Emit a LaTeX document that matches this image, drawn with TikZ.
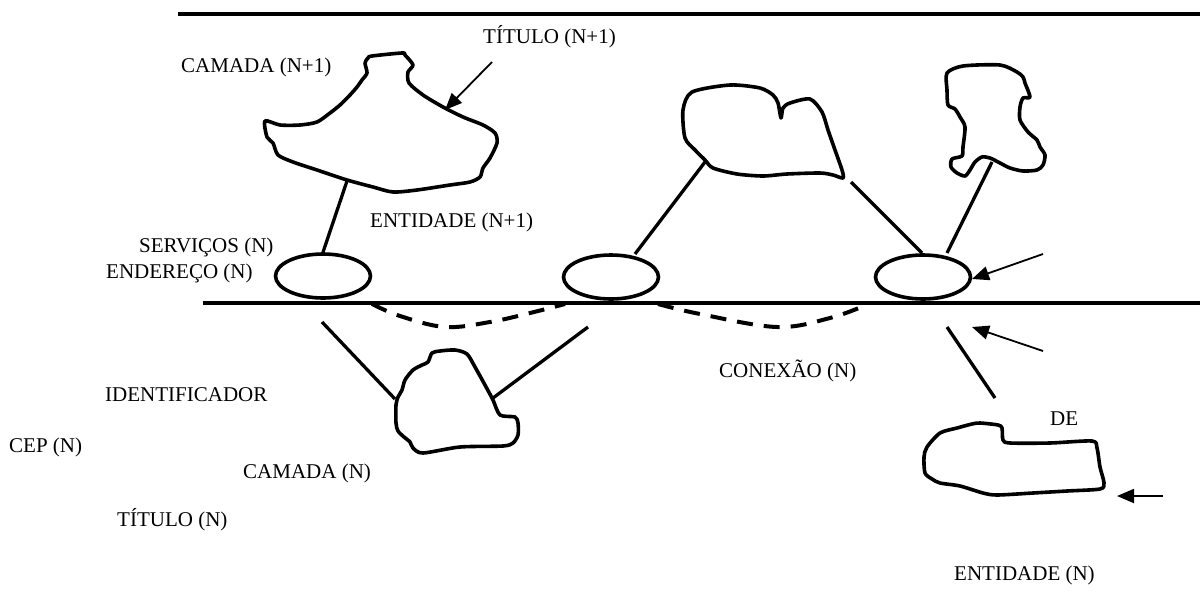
\documentclass[tikz,border=0pt]{standalone}
\usepackage{fontspec}
\setmainfont{Liberation Serif}
\usetikzlibrary{shapes.geometric,arrows.meta}
\tikzset{
  lbl/.style={anchor=base west, inner sep=0pt, font=\fontsize{21}{25}\selectfont},
  layerline/.style={line width=4.5pt},
  blob/.style={line width=3.6pt, line join=round},
  conn/.style={line width=3.3pt},
  sap/.style={ellipse, draw, line width=3.6pt, minimum width=95pt, minimum height=44pt, inner sep=0pt},
  dashconn/.style={line width=4pt, dash pattern=on 16pt off 11pt},
  pointer/.style={line width=1.8pt, -{Triangle[length=17pt,width=14pt]}}
}
\begin{document}
\begin{tikzpicture}[x=1pt,y=-1pt]
\useasboundingbox (0,0) rectangle (1200,590);
% layer boundaries
\coordinate (topL) at (178,14);
\coordinate (topR) at (1200,14);
\coordinate (midL) at (203,303);
\coordinate (midR) at (1200,303);
\draw[layerline] (topL) -- (topR);
\draw[layerline] (midL) -- (midR);

% service access points
\node[sap] (e1) at (323,276) {};
\node[sap] (e2) at (611,277) {};
\node[sap] (e3) at (923,277) {};

% entities (N+1)
\draw[blob] plot[smooth cycle, tension=0.45] coordinates {
 (368,58) (372,56) (402,53) (405,55) (413,65) (408,72) (409,83) (423,95) (443,107)
 (463,117) (483,125) (495,133) (497,143) (490,158) (483,168) (480,177) (470,182)
 (450,185) (417,190) (393,192) (373,187) (347,180) (317,170) (293,162) (278,155)
 (273,143) (267,137) (265,121) (280,125) (300,125) (317,122) (330,113) (340,105)
 (350,95) (357,87) (362,80) (367,73) (365,63)};
\draw[blob] plot[smooth cycle, tension=0.45] coordinates {
 (692,92) (730,85) (760,88) (773,95) (778,103) (781,118) (783,108) (790,103)
 (810,99) (822,112) (828,130) (835,150) (842,170) (843,178) (833,175) (820,173)
 (787,174) (763,176) (737,174) (713,168) (705,160) (695,150) (685,138) (683,110)};
\draw[blob] plot[smooth cycle, tension=0.45] coordinates {
 (947,73) (963,66) (1000,65) (1017,72) (1023,77) (1025,83) (1030,97) (1023,98)
 (1020,107) (1020,120) (1028,132) (1037,140) (1040,147) (1045,155) (1043,165)
 (1037,170) (1023,171) (1010,168) (1000,163) (990,158) (982,157) (975,162)
 (970,170) (965,176) (957,173) (951,167) (952,159) (962,156) (963,147) (965,127)
 (960,117) (955,109) (948,105) (947,90)};

% entities (N)
\draw[blob] plot[smooth cycle, tension=0.45] coordinates {
 (432,353) (440,351) (455,350) (467,354) (475,367) (485,385) (493,400) (500,415)
 (515,417) (518,423) (518,435) (513,443) (503,446) (460,447) (423,453) (413,448)
 (410,442) (404,437) (398,431) (396,423) (396,405) (398,397) (402,390) (405,380)
 (413,370) (422,365) (428,362)};
\draw[blob] plot[smooth cycle, tension=0.45] coordinates {
 (940,433) (957,428) (972,424) (980,423) (998,425) (1002,428) (1003,440) (1010,443)
 (1050,443) (1092,441) (1097,448) (1100,467) (1104,483) (1100,489) (1067,491)
 (1033,493) (997,495) (983,493) (960,486) (940,483) (932,479) (925,473) (924,457)
 (927,447)};

% connectors
\coordinate (b1) at (347,181);
\coordinate (e2t) at (635,254);
\coordinate (b2) at (705,162);
\coordinate (b2r) at (851,182);
\coordinate (e3t) at (922,253);
\coordinate (e3r) at (947,253);
\coordinate (b3) at (992,162);
\coordinate (l5a) at (322,322);
\coordinate (l5b) at (395,399);
\coordinate (l6a) at (588,327);
\coordinate (l6b) at (493,398);
\coordinate (l7a) at (947,327);
\coordinate (l7b) at (995,398);
\draw[conn] (e1.north) -- (b1);
\draw[conn] (e2t) -- (b2);
\draw[conn] (b2r) -- (e3t);
\draw[conn] (e3r) -- (b3);
\draw[conn] (l5a) -- (l5b);
\draw[conn] (l6a) -- (l6b);
\draw[conn] (l7a) -- (l7b);

% connections (N)
\draw[dashconn] plot[smooth, tension=0.6] coordinates {(372,304) (400,316) (445,327) (490,322) (530,313) (565,304)};
\draw[dashconn] plot[smooth, tension=0.6] coordinates {(658,304) (700,314) (777,327) (830,318) (866,305)};

% pointer arrows
\coordinate (a1s) at (492,62);   \coordinate (a1t) at (445,110);
\coordinate (a2s) at (1043,254); \coordinate (a2t) at (972,279);
\coordinate (a3s) at (1043,351); \coordinate (a3t) at (972,327);
\coordinate (a4s) at (1163,496); \coordinate (a4t) at (1117,496);
\draw[pointer] (a1s) -- (a1t);
\draw[pointer] (a2s) -- (a2t);
\draw[pointer] (a3s) -- (a3t);
\draw[pointer] (a4s) -- (a4t);

% labels
\node[lbl] (t1) at (181,72) {CAMADA (N+1)};
\node[lbl] (t2) at (483,43) {TÍTULO (N+1)};
\node[lbl] (t3) at (370,227) {ENTIDADE (N+1)};
\node[lbl] (t4) at (139,252) {SERVIÇOS (N)};
\node[lbl] (t5) at (106,278) {ENDEREÇO (N)};
\node[lbl] (t6) at (105,401) {IDENTIFICADOR};
\node[lbl] (t7) at (9,452) {CEP (N)};
\node[lbl] (t8) at (243,478) {CAMADA (N)};
\node[lbl] (t9) at (117,526) {TÍTULO (N)};
\node[lbl] (t10) at (719,377) {CONEXÃO (N)};
\node[lbl] (t11) at (1050,425) {DE};
\node[lbl] (t12) at (954,580) {ENTIDADE (N)};
\end{tikzpicture}
\end{document}
